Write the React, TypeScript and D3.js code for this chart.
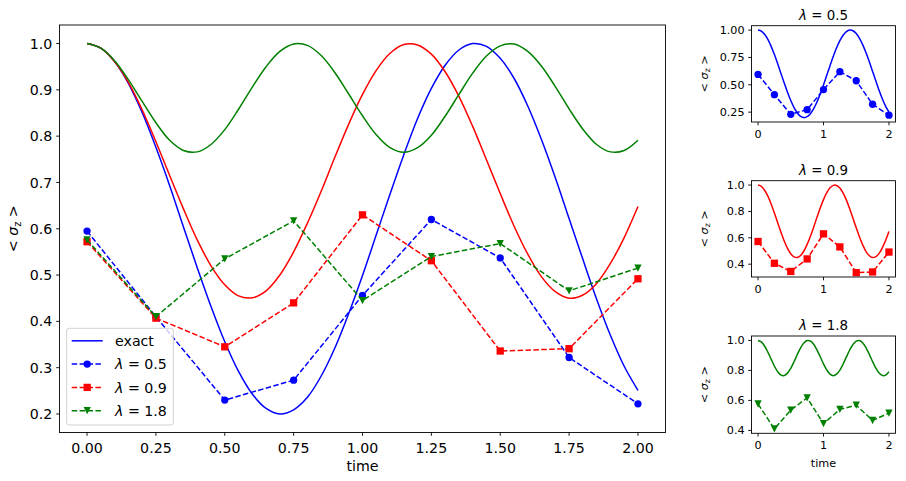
import React from "react";
import * as d3 from "d3";

// ---- data ----
const TIME_EXACT = [0, 0.05, 0.1, 0.15, 0.2, 0.25, 0.3, 0.35, 0.4, 0.45, 0.5, 0.55, 0.6, 0.65, 0.7, 0.75, 0.8, 0.85, 0.9, 0.95, 1.0, 1.05, 1.1, 1.15, 1.2, 1.25, 1.3, 1.35, 1.4, 1.45, 1.5, 1.55, 1.6, 1.65, 1.7, 1.75, 1.8, 1.85, 1.9, 1.95, 2.0];
const EXACT_05 = [1.0, 0.99, 0.961, 0.914, 0.851, 0.776, 0.693, 0.604, 0.516, 0.432, 0.356, 0.292, 0.243, 0.212, 0.2, 0.209, 0.236, 0.282, 0.343, 0.417, 0.499, 0.587, 0.675, 0.76, 0.838, 0.903, 0.953, 0.986, 1.0, 0.994, 0.968, 0.925, 0.865, 0.792, 0.71, 0.622, 0.534, 0.448, 0.37, 0.303, 0.251];
const EXACT_09 = [1.0, 0.99, 0.961, 0.916, 0.857, 0.788, 0.715, 0.643, 0.576, 0.52, 0.479, 0.455, 0.451, 0.466, 0.5, 0.55, 0.612, 0.681, 0.755, 0.826, 0.89, 0.942, 0.979, 0.998, 0.997, 0.977, 0.939, 0.886, 0.821, 0.749, 0.676, 0.606, 0.545, 0.496, 0.464, 0.45, 0.457, 0.482, 0.525, 0.581, 0.648];
const EXACT_18 = [1.0, 0.99, 0.963, 0.922, 0.875, 0.829, 0.791, 0.769, 0.766, 0.782, 0.814, 0.858, 0.906, 0.95, 0.983, 0.999, 0.996, 0.974, 0.937, 0.891, 0.844, 0.803, 0.775, 0.765, 0.775, 0.802, 0.843, 0.89, 0.936, 0.973, 0.995, 0.999, 0.983, 0.951, 0.907, 0.859, 0.815, 0.782, 0.766, 0.769, 0.791];

const TIME_SIM = [0, 0.25, 0.5, 0.75, 1.0, 1.25, 1.5, 1.75, 2.0];
const SIM_05 = [0.595, 0.41, 0.23, 0.273, 0.456, 0.62, 0.537, 0.322, 0.222];
const SIM_09 = [0.572, 0.407, 0.345, 0.44, 0.63, 0.531, 0.336, 0.341, 0.492];
const SIM_18 = [0.576, 0.41, 0.535, 0.617, 0.445, 0.54, 0.568, 0.466, 0.515];

const MAIN_X_TICKS = [0, 0.25, 0.5, 0.75, 1.0, 1.25, 1.5, 1.75, 2.0];
const MAIN_Y_TICKS = [0.2, 0.3, 0.4, 0.5, 0.6, 0.7, 0.8, 0.9, 1.0];
const SMALL_X_TICKS = [0, 1, 2];
const SMALL_Y_TICKS_A = [0.25, 0.5, 0.75, 1.0];
const SMALL_Y_TICKS_B = [0.4, 0.6, 0.8, 1.0];
const SMALL_Y_TICKS_C = [0.4, 0.6, 0.8, 1.0];
const LAMBDAS = ["0.5", "0.9", "1.8"];

const FONT = "DejaVu Sans, sans-serif";
const BLUE = "#0000ff";
const RED = "#ff0000";
const GREEN = "#008000";
const DASH = "5.5,2.4";

type MarkerKind = "circle" | "square" | "tri";

function Marker({ kind, x, y, color }: { kind: MarkerKind; x: number; y: number; color: string }) {
  const s = 7.3;
  if (kind === "circle") return <circle cx={x} cy={y} r={s / 2} fill={color} />;
  if (kind === "square") return <rect x={x - s / 2} y={y - s / 2} width={s} height={s} fill={color} />;
  const h = s / 2;
  return <path d={`M${x - h},${y - h}L${x + h},${y - h}L${x},${y + h}Z`} fill={color} />;
}

function Sigma({ x, y, size }: { x: number; y: number; size: number }) {
  return (
    <text
      transform={`translate(${x},${y}) rotate(-90)`}
      textAnchor="middle"
      fontFamily={FONT}
      fontSize={size}
      fill="#000"
    >
      {"< "}
      <tspan fontStyle="italic">σ</tspan>
      <tspan fontSize={size * 0.7} dy={size * 0.2}>z</tspan>
      <tspan dy={-size * 0.2}>{" >"}</tspan>
    </text>
  );
}

function LambdaText({ x, y, value, size, anchor }: { x: number; y: number; value: string; size: number; anchor: string }) {
  return (
    <text x={x} y={y} fontFamily={FONT} fontSize={size} textAnchor={anchor as any} fill="#000">
      <tspan fontStyle="italic">λ</tspan>
      {" = " + value}
    </text>
  );
}

interface Series {
  exact: number[];
  sim: number[];
  color: string;
  kind: MarkerKind;
}

const SERIES: Series[] = [
  { exact: EXACT_05, sim: SIM_05, color: BLUE, kind: "circle" },
  { exact: EXACT_09, sim: SIM_09, color: RED, kind: "square" },
  { exact: EXACT_18, sim: SIM_18, color: GREEN, kind: "tri" },
];

function seriesPaths(s: Series, x: d3.ScaleLinear<number, number>, y: d3.ScaleLinear<number, number>) {
  const smooth = d3
    .line<number>()
    .x((_, i) => x(TIME_EXACT[i]))
    .y((d) => y(d))
    .curve(d3.curveCatmullRom);
  const straight = d3
    .line<number>()
    .x((_, i) => x(TIME_SIM[i]))
    .y((d) => y(d));
  return { exact: smooth(s.exact) || "", sim: straight(s.sim) || "" };
}

function MainPlot() {
  const L = 59.5, R = 665.5, T = 25, B = 432.5;
  const x = d3.scaleLinear().domain([-0.1, 2.1]).range([L, R]);
  const y = d3.scaleLinear().domain([0.16, 1.04]).range([B, T]);
  const fs = 14.2;
  const tick = 3.3;
  return (
    <g>
      <defs>
        <clipPath id="mainclip">
          <rect x={L} y={T} width={R - L} height={B - T} />
        </clipPath>
      </defs>
      <g clipPath="url(#mainclip)">
        {SERIES.map((s, k) => {
          const p = seriesPaths(s, x, y);
          return (
            <g key={"e" + k}>
              <path d={p.exact} fill="none" stroke={s.color} strokeWidth={1.5} />
            </g>
          );
        })}
        {SERIES.map((s, k) => {
          const p = seriesPaths(s, x, y);
          return (
            <g key={"s" + k}>
              <path d={p.sim} fill="none" stroke={s.color} strokeWidth={1.5} strokeDasharray={DASH} />
              {s.sim.map((v, i) => (
                <Marker key={i} kind={s.kind} x={x(TIME_SIM[i])} y={y(v)} color={s.color} />
              ))}
            </g>
          );
        })}
      </g>
      <rect x={L} y={T} width={R - L} height={B - T} fill="none" stroke="#000" strokeWidth={0.9} />
      {MAIN_X_TICKS.map((t) => (
        <g key={"xt" + t}>
          <line x1={x(t)} x2={x(t)} y1={B} y2={B + tick} stroke="#000" strokeWidth={0.9} />
          <text x={x(t)} y={453} textAnchor="middle" fontFamily={FONT} fontSize={fs} fill="#000">
            {d3.format(".2f")(t)}
          </text>
        </g>
      ))}
      {MAIN_Y_TICKS.map((t) => (
        <g key={"yt" + t}>
          <line x1={L - tick} x2={L} y1={y(t)} y2={y(t)} stroke="#000" strokeWidth={0.9} />
          <text x={L - 2 * tick - 0.5} y={y(t) + fs * 0.36} textAnchor="end" fontFamily={FONT} fontSize={fs} fill="#000">
            {d3.format(".1f")(t)}
          </text>
        </g>
      ))}
      <text x={(L + R) / 2} y={471} textAnchor="middle" fontFamily={FONT} fontSize={fs} fill="#000">
        time
      </text>
      <Sigma x={18} y={(T + B) / 2} size={fs} />
      {/* legend */}
      <g>
        <rect x={66.7} y={328.3} width={106.6} height={96.7} rx={2.5} fill="#fff" fillOpacity={0.8} stroke="#cccccc" strokeWidth={0.9} />
        {[
          { label: "exact", color: BLUE, dashed: false, kind: null as MarkerKind | null },
          { label: LAMBDAS[0], color: BLUE, dashed: true, kind: "circle" as MarkerKind },
          { label: LAMBDAS[1], color: RED, dashed: true, kind: "square" as MarkerKind },
          { label: LAMBDAS[2], color: GREEN, dashed: true, kind: "tri" as MarkerKind },
        ].map((e, i) => {
          const yy = 340.8 + i * 23.3;
          return (
            <g key={"lg" + i}>
              <line x1={71.7} x2={102.7} y1={yy} y2={yy} stroke={e.color} strokeWidth={1.5} strokeDasharray={e.dashed ? DASH : undefined} />
              {e.kind && <Marker kind={e.kind} x={87.2} y={yy} color={e.color} />}
              {i === 0 ? (
                <text x={115} y={yy + fs * 0.36} fontFamily={FONT} fontSize={fs} fill="#000">exact</text>
              ) : (
                <LambdaText x={115} y={yy + fs * 0.36} value={e.label} size={fs} anchor="start" />
              )}
            </g>
          );
        })}
      </g>
    </g>
  );
}

function SmallPlot({ s, top, bottom, domain, ticks, fmt, lambda, showTime }: {
  s: Series; top: number; bottom: number; domain: [number, number]; ticks: number[]; fmt: string; lambda: string; showTime: boolean;
}) {
  const L = 751.5, R = 895.5;
  const x = d3.scaleLinear().domain([-0.1, 2.1]).range([L, R]);
  const y = d3.scaleLinear().domain(domain).range([bottom, top]);
  const fs = 11.2;
  const tick = 3.3;
  const p = seriesPaths(s, x, y);
  const id = "clip" + lambda.replace(".", "");
  return (
    <g>
      <defs>
        <clipPath id={id}>
          <rect x={L} y={top} width={R - L} height={bottom - top} />
        </clipPath>
      </defs>
      <g clipPath={`url(#${id})`}>
        <path d={p.exact} fill="none" stroke={s.color} strokeWidth={1.5} />
        <path d={p.sim} fill="none" stroke={s.color} strokeWidth={1.5} strokeDasharray={DASH} />
        {s.sim.map((v, i) => (
          <Marker key={i} kind={s.kind} x={x(TIME_SIM[i])} y={y(v)} color={s.color} />
        ))}
      </g>
      <rect x={L} y={top} width={R - L} height={bottom - top} fill="none" stroke="#000" strokeWidth={0.9} />
      {SMALL_X_TICKS.map((t) => (
        <g key={"sx" + t}>
          <line x1={x(t)} x2={x(t)} y1={bottom} y2={bottom + tick} stroke="#000" strokeWidth={0.9} />
          <text x={x(t)} y={bottom + 16} textAnchor="middle" fontFamily={FONT} fontSize={fs} fill="#000">
            {d3.format("d")(t)}
          </text>
        </g>
      ))}
      {ticks.map((t) => (
        <g key={"sy" + t}>
          <line x1={L - tick} x2={L} y1={y(t)} y2={y(t)} stroke="#000" strokeWidth={0.9} />
          <text x={L - 2 * tick - 0.3} y={y(t) + fs * 0.36} textAnchor="end" fontFamily={FONT} fontSize={fs} fill="#000">
            {d3.format(fmt)(t)}
          </text>
        </g>
      ))}
      <LambdaText x={(L + R) / 2} y={top - 5.7} value={lambda} size={13.4} anchor="middle" />
      <Sigma x={707.5} y={(top + bottom) / 2} size={fs} />
      {showTime && (
        <text x={(L + R) / 2} y={bottom + 33.4} textAnchor="middle" fontFamily={FONT} fontSize={fs} fill="#000">
          time
        </text>
      )}
    </g>
  );
}

export default function App() {
  return (
    <svg width={906} height={481} style={{ display: "block", position: "absolute", left: 0, top: 0, background: "#fff" }}>
      <rect x={0} y={0} width={906} height={481} fill="#fff" />
      <MainPlot />
      <SmallPlot s={SERIES[0]} top={25.7} bottom={122} domain={[0.16, 1.04]} ticks={SMALL_Y_TICKS_A} fmt=".2f" lambda={LAMBDAS[0]} showTime={false} />
      <SmallPlot s={SERIES[1]} top={180.7} bottom={277} domain={[0.3028, 1.0332]} ticks={SMALL_Y_TICKS_B} fmt=".1f" lambda={LAMBDAS[1]} showTime={false} />
      <SmallPlot s={SERIES[2]} top={336} bottom={433.3} domain={[0.3805, 1.0295]} ticks={SMALL_Y_TICKS_C} fmt=".1f" lambda={LAMBDAS[2]} showTime={true} />
    </svg>
  );
}
